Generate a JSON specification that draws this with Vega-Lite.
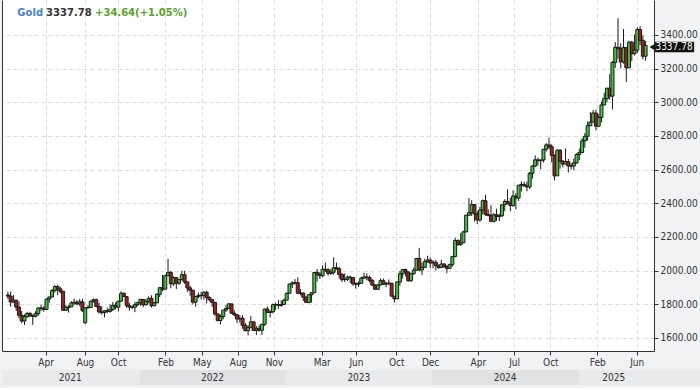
{
"$schema": "https://vega.github.io/schema/vega-lite/v6.json",
"background": "#f1f2f4",
"padding": {"left": 2, "right": 0, "top": 0, "bottom": 3},
"spacing": 3,
"config": {
  "font": "DejaVu Sans",
  "axis": {"labelFont": "DejaVu Sans Condensed, DejaVu Sans", "labelFontSize": 10, "labelColor": "#333333", "tickColor": "#333333", "domainColor": "#333333", "gridColor": "#dcdcdc", "gridDash": [4, 3], "tickSize": 4, "labelPadding": 2, "title": null, "labelOverlap": false}
},
"resolve": {"scale": {"x": "independent", "color": "independent"}},
"datasets": {
"candles": [
{"d":"2021-01-25","o":1855,"h":1875,"l":1831,"c":1848},
{"d":"2021-02-01","o":1848,"h":1875,"l":1785,"c":1813},
{"d":"2021-02-08","o":1813,"h":1855,"l":1808,"c":1824},
{"d":"2021-02-15","o":1824,"h":1826,"l":1760,"c":1783},
{"d":"2021-02-22","o":1783,"h":1816,"l":1717,"c":1734},
{"d":"2021-03-01","o":1734,"h":1760,"l":1687,"c":1700},
{"d":"2021-03-08","o":1700,"h":1740,"l":1676,"c":1727},
{"d":"2021-03-15","o":1727,"h":1755,"l":1720,"c":1745},
{"d":"2021-03-22","o":1745,"h":1755,"l":1722,"c":1732},
{"d":"2021-03-29","o":1732,"h":1740,"l":1677,"c":1728},
{"d":"2021-04-05","o":1728,"h":1758,"l":1722,"c":1744},
{"d":"2021-04-12","o":1744,"h":1784,"l":1731,"c":1777},
{"d":"2021-04-19","o":1777,"h":1798,"l":1760,"c":1777},
{"d":"2021-04-26","o":1777,"h":1790,"l":1756,"c":1769},
{"d":"2021-05-03","o":1769,"h":1832,"l":1768,"c":1831},
{"d":"2021-05-10","o":1831,"h":1845,"l":1808,"c":1843},
{"d":"2021-05-17","o":1843,"h":1890,"l":1842,"c":1881},
{"d":"2021-05-24","o":1881,"h":1913,"l":1870,"c":1905},
{"d":"2021-05-31","o":1905,"h":1916,"l":1855,"c":1891},
{"d":"2021-06-07","o":1891,"h":1903,"l":1864,"c":1877},
{"d":"2021-06-14","o":1877,"h":1879,"l":1761,"c":1764},
{"d":"2021-06-21","o":1764,"h":1795,"l":1761,"c":1781},
{"d":"2021-06-28","o":1781,"h":1795,"l":1750,"c":1784},
{"d":"2021-07-05","o":1784,"h":1818,"l":1784,"c":1808},
{"d":"2021-07-12","o":1808,"h":1834,"l":1795,"c":1812},
{"d":"2021-07-19","o":1812,"h":1825,"l":1794,"c":1802},
{"d":"2021-07-26","o":1802,"h":1832,"l":1790,"c":1814},
{"d":"2021-08-02","o":1814,"h":1832,"l":1753,"c":1763},
{"d":"2021-08-09","o":1690,"h":1782,"l":1682,"c":1779},
{"d":"2021-08-16","o":1779,"h":1795,"l":1772,"c":1781},
{"d":"2021-08-23","o":1781,"h":1823,"l":1778,"c":1817},
{"d":"2021-08-30","o":1817,"h":1834,"l":1810,"c":1827},
{"d":"2021-09-06","o":1827,"h":1833,"l":1780,"c":1787},
{"d":"2021-09-13","o":1787,"h":1808,"l":1745,"c":1754},
{"d":"2021-09-20","o":1754,"h":1787,"l":1738,"c":1750},
{"d":"2021-09-27","o":1750,"h":1765,"l":1721,"c":1761},
{"d":"2021-10-04","o":1761,"h":1780,"l":1746,"c":1757},
{"d":"2021-10-11","o":1757,"h":1800,"l":1750,"c":1768},
{"d":"2021-10-18","o":1768,"h":1813,"l":1760,"c":1793},
{"d":"2021-10-25","o":1793,"h":1810,"l":1770,"c":1783},
{"d":"2021-11-01","o":1783,"h":1818,"l":1758,"c":1818},
{"d":"2021-11-08","o":1818,"h":1877,"l":1817,"c":1865},
{"d":"2021-11-15","o":1865,"h":1870,"l":1845,"c":1846},
{"d":"2021-11-22","o":1846,"h":1848,"l":1778,"c":1792},
{"d":"2021-11-29","o":1792,"h":1809,"l":1762,"c":1783},
{"d":"2021-12-06","o":1783,"h":1793,"l":1770,"c":1782},
{"d":"2021-12-13","o":1782,"h":1814,"l":1753,"c":1798},
{"d":"2021-12-20","o":1798,"h":1815,"l":1788,"c":1809},
{"d":"2021-12-27","o":1809,"h":1831,"l":1790,"c":1829},
{"d":"2022-01-03","o":1829,"h":1831,"l":1782,"c":1797},
{"d":"2022-01-10","o":1797,"h":1830,"l":1792,"c":1817},
{"d":"2022-01-17","o":1817,"h":1847,"l":1805,"c":1835},
{"d":"2022-01-24","o":1835,"h":1853,"l":1780,"c":1791},
{"d":"2022-01-31","o":1791,"h":1815,"l":1788,"c":1808},
{"d":"2022-02-07","o":1808,"h":1865,"l":1806,"c":1859},
{"d":"2022-02-14","o":1859,"h":1903,"l":1842,"c":1898},
{"d":"2022-02-21","o":1898,"h":1974,"l":1878,"c":1889},
{"d":"2022-02-28","o":1889,"h":1975,"l":1889,"c":1970},
{"d":"2022-03-07","o":1970,"h":2070,"l":1966,"c":1989},
{"d":"2022-03-14","o":1989,"h":1997,"l":1895,"c":1921},
{"d":"2022-03-21","o":1921,"h":1966,"l":1910,"c":1958},
{"d":"2022-03-28","o":1958,"h":1962,"l":1890,"c":1925},
{"d":"2022-04-04","o":1925,"h":1949,"l":1915,"c":1946},
{"d":"2022-04-11","o":1946,"h":1998,"l":1942,"c":1975},
{"d":"2022-04-18","o":1975,"h":1998,"l":1921,"c":1932},
{"d":"2022-04-25","o":1932,"h":1936,"l":1872,"c":1897},
{"d":"2022-05-02","o":1897,"h":1910,"l":1850,"c":1883},
{"d":"2022-05-09","o":1883,"h":1885,"l":1798,"c":1812},
{"d":"2022-05-16","o":1812,"h":1850,"l":1786,"c":1846},
{"d":"2022-05-23","o":1846,"h":1870,"l":1837,"c":1853},
{"d":"2022-05-30","o":1853,"h":1874,"l":1828,"c":1851},
{"d":"2022-06-06","o":1851,"h":1877,"l":1826,"c":1871},
{"d":"2022-06-13","o":1871,"h":1880,"l":1805,"c":1840},
{"d":"2022-06-20","o":1840,"h":1847,"l":1816,"c":1827},
{"d":"2022-06-27","o":1827,"h":1830,"l":1784,"c":1811},
{"d":"2022-07-04","o":1811,"h":1812,"l":1732,"c":1742},
{"d":"2022-07-11","o":1742,"h":1745,"l":1697,"c":1703},
{"d":"2022-07-18","o":1703,"h":1739,"l":1680,"c":1727},
{"d":"2022-07-25","o":1727,"h":1767,"l":1711,"c":1765},
{"d":"2022-08-01","o":1765,"h":1794,"l":1754,"c":1775},
{"d":"2022-08-08","o":1775,"h":1807,"l":1772,"c":1802},
{"d":"2022-08-15","o":1802,"h":1802,"l":1745,"c":1747},
{"d":"2022-08-22","o":1747,"h":1765,"l":1728,"c":1737},
{"d":"2022-08-29","o":1737,"h":1740,"l":1688,"c":1712},
{"d":"2022-09-05","o":1712,"h":1735,"l":1691,"c":1717},
{"d":"2022-09-12","o":1717,"h":1735,"l":1654,"c":1675},
{"d":"2022-09-19","o":1675,"h":1688,"l":1639,"c":1643},
{"d":"2022-09-26","o":1643,"h":1675,"l":1615,"c":1661},
{"d":"2022-10-03","o":1661,"h":1730,"l":1660,"c":1695},
{"d":"2022-10-10","o":1695,"h":1700,"l":1642,"c":1644},
{"d":"2022-10-17","o":1644,"h":1670,"l":1617,"c":1657},
{"d":"2022-10-24","o":1657,"h":1674,"l":1638,"c":1645},
{"d":"2022-10-31","o":1645,"h":1682,"l":1617,"c":1681},
{"d":"2022-11-07","o":1681,"h":1773,"l":1671,"c":1771},
{"d":"2022-11-14","o":1771,"h":1787,"l":1749,"c":1751},
{"d":"2022-11-21","o":1751,"h":1762,"l":1721,"c":1755},
{"d":"2022-11-28","o":1755,"h":1804,"l":1745,"c":1797},
{"d":"2022-12-05","o":1797,"h":1810,"l":1765,"c":1798},
{"d":"2022-12-12","o":1798,"h":1825,"l":1773,"c":1793},
{"d":"2022-12-19","o":1793,"h":1823,"l":1785,"c":1798},
{"d":"2022-12-26","o":1798,"h":1833,"l":1797,"c":1824},
{"d":"2023-01-02","o":1824,"h":1869,"l":1824,"c":1865},
{"d":"2023-01-09","o":1865,"h":1922,"l":1865,"c":1920},
{"d":"2023-01-16","o":1920,"h":1937,"l":1896,"c":1926},
{"d":"2023-01-23","o":1926,"h":1949,"l":1917,"c":1928},
{"d":"2023-01-30","o":1928,"h":1960,"l":1861,"c":1865},
{"d":"2023-02-06","o":1865,"h":1890,"l":1853,"c":1866},
{"d":"2023-02-13","o":1866,"h":1870,"l":1819,"c":1842},
{"d":"2023-02-20","o":1842,"h":1847,"l":1809,"c":1811},
{"d":"2023-02-27","o":1811,"h":1858,"l":1805,"c":1856},
{"d":"2023-03-06","o":1856,"h":1869,"l":1809,"c":1868},
{"d":"2023-03-13","o":1868,"h":1990,"l":1866,"c":1989},
{"d":"2023-03-20","o":1989,"h":2009,"l":1935,"c":1978},
{"d":"2023-03-27","o":1978,"h":1990,"l":1950,"c":1969},
{"d":"2023-04-03","o":1969,"h":2032,"l":1961,"c":2008},
{"d":"2023-04-10","o":2008,"h":2048,"l":1992,"c":2004},
{"d":"2023-04-17","o":2004,"h":2015,"l":1969,"c":1983},
{"d":"2023-04-24","o":1983,"h":2010,"l":1974,"c":1990},
{"d":"2023-05-01","o":1990,"h":2079,"l":1976,"c":2017},
{"d":"2023-05-08","o":2017,"h":2048,"l":2005,"c":2011},
{"d":"2023-05-15","o":2011,"h":2022,"l":1952,"c":1977},
{"d":"2023-05-22","o":1977,"h":1985,"l":1932,"c":1946},
{"d":"2023-05-29","o":1946,"h":1983,"l":1932,"c":1948},
{"d":"2023-06-05","o":1948,"h":1970,"l":1938,"c":1961},
{"d":"2023-06-12","o":1961,"h":1970,"l":1925,"c":1958},
{"d":"2023-06-19","o":1958,"h":1958,"l":1910,"c":1921},
{"d":"2023-06-26","o":1921,"h":1930,"l":1893,"c":1919},
{"d":"2023-07-03","o":1919,"h":1935,"l":1903,"c":1925},
{"d":"2023-07-10","o":1925,"h":1964,"l":1923,"c":1955},
{"d":"2023-07-17","o":1955,"h":1987,"l":1951,"c":1962},
{"d":"2023-07-24","o":1962,"h":1983,"l":1942,"c":1959},
{"d":"2023-07-31","o":1959,"h":1970,"l":1929,"c":1942},
{"d":"2023-08-07","o":1942,"h":1948,"l":1908,"c":1914},
{"d":"2023-08-14","o":1914,"h":1920,"l":1885,"c":1889},
{"d":"2023-08-21","o":1889,"h":1922,"l":1884,"c":1914},
{"d":"2023-08-28","o":1914,"h":1953,"l":1913,"c":1940},
{"d":"2023-09-04","o":1940,"h":1953,"l":1915,"c":1919},
{"d":"2023-09-11","o":1919,"h":1933,"l":1901,"c":1924},
{"d":"2023-09-18","o":1924,"h":1947,"l":1913,"c":1925},
{"d":"2023-09-25","o":1925,"h":1926,"l":1846,"c":1848},
{"d":"2023-10-02","o":1848,"h":1850,"l":1810,"c":1832},
{"d":"2023-10-09","o":1832,"h":1935,"l":1832,"c":1932},
{"d":"2023-10-16","o":1932,"h":1997,"l":1909,"c":1981},
{"d":"2023-10-23","o":1981,"h":2009,"l":1953,"c":2006},
{"d":"2023-10-30","o":2006,"h":2011,"l":1965,"c":1992},
{"d":"2023-11-06","o":1992,"h":1993,"l":1932,"c":1940},
{"d":"2023-11-13","o":1940,"h":1986,"l":1932,"c":1981},
{"d":"2023-11-20","o":1981,"h":2017,"l":1975,"c":2002},
{"d":"2023-11-27","o":2002,"h":2075,"l":2001,"c":2072},
{"d":"2023-12-04","o":2072,"h":2135,"l":1995,"c":2004},
{"d":"2023-12-11","o":2004,"h":2047,"l":1973,"c":2019},
{"d":"2023-12-18","o":2019,"h":2071,"l":2016,"c":2053},
{"d":"2023-12-25","o":2053,"h":2088,"l":2047,"c":2063},
{"d":"2024-01-01","o":2063,"h":2078,"l":2016,"c":2045},
{"d":"2024-01-08","o":2045,"h":2062,"l":2013,"c":2049},
{"d":"2024-01-15","o":2049,"h":2063,"l":2002,"c":2029},
{"d":"2024-01-22","o":2029,"h":2036,"l":2010,"c":2018},
{"d":"2024-01-29","o":2018,"h":2065,"l":2016,"c":2039},
{"d":"2024-02-05","o":2039,"h":2044,"l":2015,"c":2024},
{"d":"2024-02-12","o":2024,"h":2032,"l":1984,"c":2013},
{"d":"2024-02-19","o":2013,"h":2041,"l":2011,"c":2035},
{"d":"2024-02-26","o":2035,"h":2088,"l":2024,"c":2083},
{"d":"2024-03-04","o":2083,"h":2195,"l":2080,"c":2179},
{"d":"2024-03-11","o":2179,"h":2185,"l":2146,"c":2155},
{"d":"2024-03-18","o":2155,"h":2222,"l":2146,"c":2165},
{"d":"2024-03-25","o":2165,"h":2236,"l":2163,"c":2230},
{"d":"2024-04-01","o":2230,"h":2330,"l":2228,"c":2329},
{"d":"2024-04-08","o":2329,"h":2431,"l":2325,"c":2344},
{"d":"2024-04-15","o":2344,"h":2418,"l":2324,"c":2392},
{"d":"2024-04-22","o":2392,"h":2394,"l":2291,"c":2337},
{"d":"2024-04-29","o":2337,"h":2353,"l":2277,"c":2301},
{"d":"2024-05-06","o":2301,"h":2378,"l":2291,"c":2360},
{"d":"2024-05-13","o":2360,"h":2422,"l":2334,"c":2415},
{"d":"2024-05-20","o":2415,"h":2450,"l":2325,"c":2334},
{"d":"2024-05-27","o":2334,"h":2364,"l":2323,"c":2327},
{"d":"2024-06-03","o":2327,"h":2388,"l":2287,"c":2293},
{"d":"2024-06-10","o":2293,"h":2342,"l":2286,"c":2332},
{"d":"2024-06-17","o":2332,"h":2368,"l":2295,"c":2321},
{"d":"2024-06-24","o":2321,"h":2338,"l":2293,"c":2326},
{"d":"2024-07-01","o":2326,"h":2393,"l":2318,"c":2391},
{"d":"2024-07-08","o":2391,"h":2424,"l":2353,"c":2411},
{"d":"2024-07-15","o":2411,"h":2483,"l":2393,"c":2400},
{"d":"2024-07-22","o":2400,"h":2432,"l":2353,"c":2387},
{"d":"2024-07-29","o":2387,"h":2477,"l":2379,"c":2443},
{"d":"2024-08-05","o":2443,"h":2461,"l":2364,"c":2431},
{"d":"2024-08-12","o":2431,"h":2509,"l":2414,"c":2507},
{"d":"2024-08-19","o":2507,"h":2531,"l":2470,"c":2512},
{"d":"2024-08-26","o":2512,"h":2528,"l":2500,"c":2503},
{"d":"2024-09-02","o":2503,"h":2529,"l":2471,"c":2497},
{"d":"2024-09-09","o":2497,"h":2586,"l":2485,"c":2578},
{"d":"2024-09-16","o":2578,"h":2625,"l":2546,"c":2621},
{"d":"2024-09-23","o":2621,"h":2685,"l":2615,"c":2658},
{"d":"2024-09-30","o":2658,"h":2672,"l":2624,"c":2653},
{"d":"2024-10-07","o":2653,"h":2660,"l":2603,"c":2657},
{"d":"2024-10-14","o":2657,"h":2722,"l":2643,"c":2721},
{"d":"2024-10-21","o":2721,"h":2758,"l":2708,"c":2747},
{"d":"2024-10-28","o":2747,"h":2790,"l":2722,"c":2736},
{"d":"2024-11-04","o":2736,"h":2750,"l":2643,"c":2685},
{"d":"2024-11-11","o":2685,"h":2690,"l":2536,"c":2563},
{"d":"2024-11-18","o":2563,"h":2721,"l":2563,"c":2715},
{"d":"2024-11-25","o":2715,"h":2722,"l":2605,"c":2650},
{"d":"2024-12-02","o":2650,"h":2657,"l":2613,"c":2633},
{"d":"2024-12-09","o":2633,"h":2726,"l":2632,"c":2648},
{"d":"2024-12-16","o":2648,"h":2664,"l":2583,"c":2622},
{"d":"2024-12-23","o":2622,"h":2639,"l":2600,"c":2621},
{"d":"2024-12-30","o":2621,"h":2665,"l":2596,"c":2640},
{"d":"2025-01-06","o":2640,"h":2697,"l":2635,"c":2690},
{"d":"2025-01-13","o":2690,"h":2725,"l":2657,"c":2702},
{"d":"2025-01-20","o":2702,"h":2786,"l":2700,"c":2771},
{"d":"2025-01-27","o":2771,"h":2817,"l":2730,"c":2798},
{"d":"2025-02-03","o":2798,"h":2886,"l":2772,"c":2861},
{"d":"2025-02-10","o":2861,"h":2942,"l":2860,"c":2883},
{"d":"2025-02-17","o":2883,"h":2955,"l":2882,"c":2936},
{"d":"2025-02-24","o":2936,"h":2956,"l":2833,"c":2858},
{"d":"2025-03-03","o":2858,"h":2930,"l":2857,"c":2910},
{"d":"2025-03-10","o":2910,"h":3005,"l":2880,"c":2984},
{"d":"2025-03-17","o":2984,"h":3057,"l":2982,"c":3022},
{"d":"2025-03-24","o":3022,"h":3086,"l":3000,"c":3084},
{"d":"2025-03-31","o":3084,"h":3167,"l":3015,"c":3037},
{"d":"2025-04-07","o":3037,"h":3245,"l":2957,"c":3237},
{"d":"2025-04-14","o":3237,"h":3358,"l":3205,"c":3327},
{"d":"2025-04-21","o":3327,"h":3500,"l":3260,"c":3319},
{"d":"2025-04-28","o":3319,"h":3351,"l":3202,"c":3240},
{"d":"2025-05-05","o":3240,"h":3435,"l":3230,"c":3325},
{"d":"2025-05-12","o":3325,"h":3325,"l":3121,"c":3205},
{"d":"2025-05-19","o":3205,"h":3366,"l":3205,"c":3357},
{"d":"2025-05-26","o":3357,"h":3366,"l":3245,"c":3289},
{"d":"2025-06-02","o":3289,"h":3403,"l":3278,"c":3310},
{"d":"2025-06-09","o":3310,"h":3446,"l":3294,"c":3433},
{"d":"2025-06-16","o":3433,"h":3452,"l":3340,"c":3368},
{"d":"2025-06-23","o":3368,"h":3398,"l":3255,"c":3274},
{"d":"2025-06-30","o":3274,"h":3365,"l":3247,"c":3337.78}
],
"years": [
{"yr":"2021","s":"2021-01-22T16:48:00Z","e":"2022-01-01","m":"2021-07-12"},
{"yr":"2022","s":"2022-01-01","e":"2023-01-01","m":"2022-07-02"},
{"yr":"2023","s":"2023-01-01","e":"2024-01-01","m":"2023-07-02"},
{"yr":"2024","s":"2024-01-01","e":"2025-01-01","m":"2024-07-01"},
{"yr":"2025","s":"2025-01-01","e":"2025-10-31","m":"2025-03-29"}
]
},
"vconcat": [
{
  "width": 652,
  "height": 351,
  "view": {"fill": "#ffffff", "stroke": null},
  "resolve": {"axis": {"y": "independent"}},
  "layer": [
    {
      "data": {"name": "candles"},
      "mark": {"type": "rule", "color": "#1a1a1a", "strokeWidth": 1},
      "encoding": {
        "x": {"field": "d", "type": "temporal",
          "scale": {"type": "utc", "domain": [{"year": 2021, "month": 1, "date": 22, "hours": 16, "minutes": 48, "utc": true}, {"year": 2025, "month": 7, "date": 8, "hours": 14, "minutes": 24, "utc": true}]},
          "axis": {"orient": "bottom", "format": "%b", "grid": true, "labelFlush": false, "labelOverlap": false,
            "values": [
              {"year": 2021, "month": 4, "date": 30, "hours": 12, "utc": true},
              {"year": 2021, "month": 8, "date": 8, "hours": 12, "utc": true},
              {"year": 2021, "month": 10, "date": 31, "hours": 12, "utc": true},
              {"year": 2022, "month": 2, "date": 28, "hours": 12, "utc": true},
              {"year": 2022, "month": 5, "date": 31, "hours": 12, "utc": true},
              {"year": 2022, "month": 8, "date": 31, "hours": 12, "utc": true},
              {"year": 2022, "month": 11, "date": 30, "hours": 12, "utc": true},
              {"year": 2023, "month": 3, "date": 31, "hours": 12, "utc": true},
              {"year": 2023, "month": 6, "date": 26, "hours": 12, "utc": true},
              {"year": 2023, "month": 10, "date": 6, "hours": 12, "utc": true},
              {"year": 2023, "month": 12, "date": 31, "hours": 12, "utc": true},
              {"year": 2024, "month": 4, "date": 30, "hours": 12, "utc": true},
              {"year": 2024, "month": 7, "date": 31, "hours": 12, "utc": true},
              {"year": 2024, "month": 10, "date": 31, "hours": 12, "utc": true},
              {"year": 2025, "month": 2, "date": 27, "hours": 12, "utc": true},
              {"year": 2025, "month": 6, "date": 7, "hours": 12, "utc": true}
            ]}},
        "y": {"field": "l", "type": "quantitative",
          "scale": {"domain": [1522, 3608], "nice": false, "zero": false},
          "axis": {"orient": "right", "format": ".2f", "grid": true, "labelOverlap": false, "values": [1600, 1800, 2000, 2200, 2400, 2600, 2800, 3000, 3200, 3400]}},
        "y2": {"field": "h"}
      }
    },
    {
      "data": {"name": "candles"},
      "mark": {"type": "bar", "width": 3, "stroke": "#1a1a1a", "strokeWidth": 1},
      "encoding": {
        "x": {"field": "d", "type": "temporal"},
        "y": {"field": "o", "type": "quantitative", "axis": {"orient": "left", "labels": false, "ticks": false, "grid": false, "domain": true}},
        "y2": {"field": "c"},
        "color": {"condition": {"test": "datum.c >= datum.o", "value": "#3cc83c"}, "value": "#a81e1e"}
      }
    },
    {
      "data": {"values": [{}]},
      "mark": {"type": "text", "align": "left", "baseline": "middle", "font": "DejaVu Sans", "fontWeight": "bold", "fontSize": 10, "color": "#4a7fd0", "text": "Gold"},
      "encoding": {"x": {"datum": {"year": 2021, "month": 2, "date": 18, "utc": true}, "type": "temporal"}, "y": {"datum": 3531, "type": "quantitative", "axis": null}}
    },
    {
      "data": {"values": [{}]},
      "mark": {"type": "text", "align": "left", "baseline": "middle", "font": "DejaVu Sans", "fontWeight": "bold", "fontSize": 10, "color": "#333333", "text": "3337.78", "dx": 28.7},
      "encoding": {"x": {"datum": {"year": 2021, "month": 2, "date": 18, "utc": true}, "type": "temporal"}, "y": {"datum": 3531, "type": "quantitative", "axis": null}}
    },
    {
      "data": {"values": [{}]},
      "mark": {"type": "text", "align": "left", "baseline": "middle", "font": "DejaVu Sans", "fontWeight": "bold", "fontSize": 10, "color": "#5aa02c", "text": "+34.64(+1.05%)", "dx": 77.7},
      "encoding": {"x": {"datum": {"year": 2021, "month": 2, "date": 18, "utc": true}, "type": "temporal"}, "y": {"datum": 3531, "type": "quantitative", "axis": null}}
    },
    {
      "data": {"values": [{}]},
      "mark": {"type": "rect", "color": "#111111"},
      "encoding": {
        "x": {"datum": {"year": 2025, "month": 7, "date": 24, "utc": true}, "type": "temporal"},
        "x2": {"datum": {"year": 2025, "month": 10, "date": 31, "utc": true}},
        "y": {"datum": 3297, "type": "quantitative", "axis": null},
        "y2": {"datum": 3360}
      }
    },
    {
      "data": {"values": [{}]},
      "mark": {"type": "point", "shape": "triangle-left", "filled": true, "color": "#111111", "size": 45, "opacity": 1},
      "encoding": {
        "x": {"datum": {"year": 2025, "month": 7, "date": 17, "utc": true}, "type": "temporal"},
        "y": {"datum": 3328.5, "type": "quantitative", "axis": null}
      }
    },
    {
      "data": {"values": [{}]},
      "mark": {"type": "text", "align": "center", "baseline": "middle", "font": "DejaVu Sans Condensed, DejaVu Sans", "fontSize": 10, "color": "#ffffff", "text": "3337.78"},
      "encoding": {
        "x": {"datum": {"year": 2025, "month": 9, "date": 10, "utc": true}, "type": "temporal"},
        "y": {"datum": 3328.5, "type": "quantitative", "axis": null}
      }
    }
  ]
},
{
  "width": 698,
  "height": 15,
  "view": {"stroke": null},
  "data": {"name": "years"},
  "layer": [
    {
      "mark": {"type": "rect"},
      "encoding": {
        "x": {"field": "s", "type": "temporal", "axis": null,
          "scale": {"type": "utc", "domain": [{"year": 2021, "month": 1, "date": 22, "hours": 16, "minutes": 48, "utc": true}, {"year": 2025, "month": 10, "date": 30, "hours": 7, "minutes": 12, "utc": true}]}},
        "x2": {"field": "e"},
        "color": {"field": "yr", "type": "nominal", "legend": null,
          "scale": {"domain": ["2021", "2022", "2023", "2024", "2025"], "range": ["#e9eaec", "#e1e2e4", "#e9eaec", "#e1e2e4", "#e9eaec"]}}
      }
    },
    {
      "mark": {"type": "text", "align": "center", "baseline": "middle", "font": "DejaVu Sans Condensed, DejaVu Sans", "fontSize": 10, "color": "#333333"},
      "encoding": {
        "x": {"field": "m", "type": "temporal"},
        "text": {"field": "yr", "type": "nominal"}
      }
    }
  ]
}
]
}
